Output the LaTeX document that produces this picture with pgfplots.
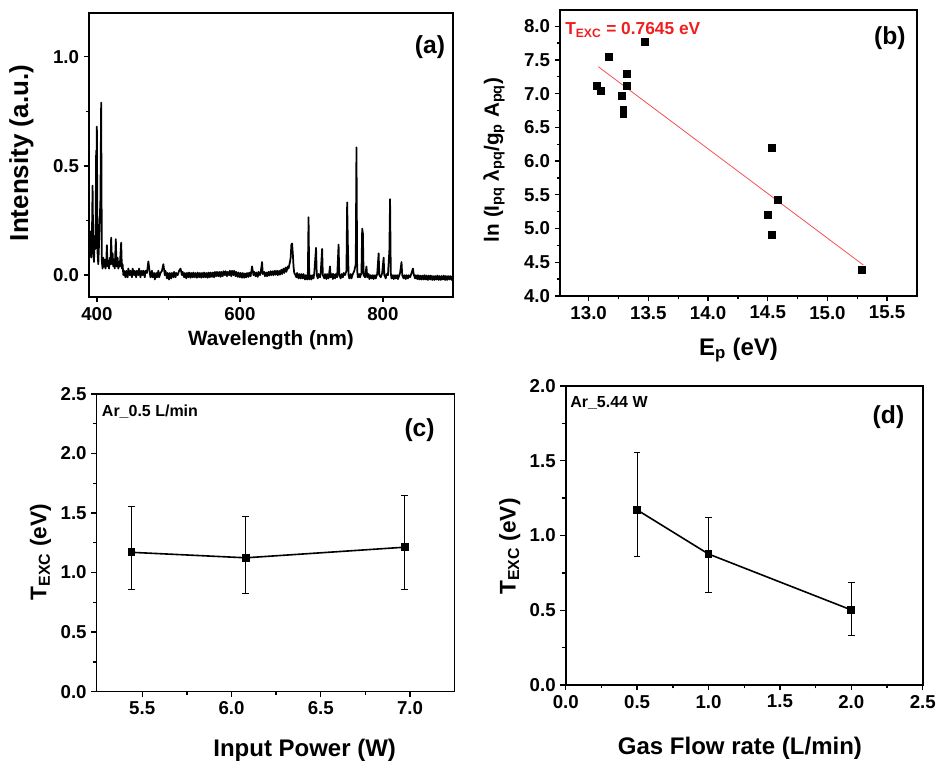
\documentclass[border=0pt]{standalone}
\usepackage{pgfplots}
\pgfplotsset{compat=1.18}
\usepackage{fontspec}
\setmainfont{Liberation Sans}
\definecolor{fitred}{RGB}{245,80,80}
\definecolor{txtred}{RGB}{240,30,30}
\pgfplotsset{
 myax/.style={scale only axis, anchor=south west,
  axis line style={line width=1.2pt},
  tick align=outside, tick pos=left,
  major tick length=4pt, minor tick length=2.5pt,
  tick style={line width=1pt, black},
  minor tick num=1,
  ticklabel style={font=\bfseries\fontsize{14}{14}\selectfont},
  /pgf/number format/assume math mode=true,
  label style={font=\bfseries\fontsize{17}{17}\selectfont},
 },
 onedec/.style={/pgf/number format/.cd, fixed, fixed zerofill, precision=1},
}
\begin{document}
\begin{tikzpicture}
\useasboundingbox (0,0) rectangle (702pt,572.25pt);
% ---------------- (a)
\begin{axis}[myax, at={(66.75pt,349.5pt)}, width=273pt, height=213pt,
 xmin=389, xmax=898, ymin=-0.1, ymax=1.2,
 xtick={400,600,800}, ytick={0,0.5,1.0},
 yticklabel style={onedec},
 xlabel={Wavelength (nm)}, ylabel={Intensity (a.u.)},
 xlabel style={font=\bfseries\fontsize{15.5}{15.5}\selectfont, at={(axis description cs:0.5,-0.151)}, anchor=center},
 ylabel style={font=\bfseries\fontsize{19.5}{19.5}\selectfont, at={(axis description cs:-0.186,0.507)}, anchor=center},
]
\addplot[black, line width=1.3pt, line join=round] coordinates {
(390,0.12)(391,0.2)(392,0.08)(393,0.15)(394,0.41)(395,0.1)(396,0.06)(397,0.18)(398,0.12)(399,0.57)(399.5,0.2)(400,0.68)(401,0.1)(402,0.05)(403,0.14)(404,0.25)(405,0.35)(406,0.79)(407,0.06)(408,0.03)(409,0.08)(410,0.04)(411,0.07)(412,0.03)(413,0.05)(414,0.137)(415,0.04)(416,0.06)(417,0.03)(418,0.08)(419,0.05)(420,0.172)(421,0.05)(422,0.1)(423,0.04)(424,0.07)(425,0.03)(426.5,0.165)(427.5,0.04)(429,0.08)(430,0.03)(431,0.06)(432,0.04)(434,0.149)(435,0.03)(436,0.05)(437,0.0)(438,0.02)(440,-0.01)(441,0.02)(443,-0.01)(444,0.03)(446,0.0)(447,0.02)(449,-0.01)(450,0.03)(452,0.0)(453,0.02)(455,-0.01)(456,0.02)(458,0.0)(459,0.03)(461,-0.01)(462,0.02)(464,0.0)(465,0.02)(467,-0.01)(468,0.02)(470,0.01)(472,0.063)(474,0.01)(475,-0.01)(477,0.02)(478,-0.01)(480,0.01)(481,-0.02)(483,0.01)(484,-0.01)(486,0.02)(487,-0.01)(489,0.01)(491,0.02)(493,0.05)(495,0.0)(496,0.02)(498,-0.015)(499,0.01)(501,-0.02)(502,0.01)(504,-0.015)(505,0.01)(507,-0.01)(508,0.015)(510,-0.01)(511,0.01)(513,0.0)(515,0.02)(517,0.03)(519,0.0)(520,0.015)(522,-0.01)(523,0.01)(525,-0.015)(526,0.01)(528,-0.01)(529,0.012)(531,-0.012)(532,0.01)(534,-0.01)(535,0.012)(537,-0.01)(538,0.01)(540,-0.012)(541,0.012)(543,-0.01)(544,0.01)(546,-0.012)(547,0.01)(549,-0.01)(550,0.012)(552,-0.01)(553,0.01)(555,-0.012)(556,0.012)(558,-0.01)(559,0.012)(561,-0.008)(562,0.012)(564,-0.01)(565,0.015)(567,-0.005)(568,0.015)(570,-0.005)(571,0.015)(573,-0.008)(574,0.015)(576,-0.005)(577,0.018)(579,0.0)(580,0.018)(582,-0.005)(583,0.015)(585,0.0)(586,0.02)(588,-0.005)(589,0.02)(591,0.0)(592,0.02)(594,-0.005)(595,0.015)(597,-0.008)(598,0.012)(600,-0.01)(601,0.01)(603,-0.012)(604,0.01)(606,-0.012)(607,0.008)(609,-0.01)(610,0.01)(612,-0.008)(613,0.012)(615,-0.005)(617,0.04)(619,0.0)(620,0.015)(622,-0.005)(623,0.012)(625,-0.008)(626,0.015)(628,0.0)(629,0.01)(631,0.06)(632,0.005)(634,0.015)(635,-0.005)(637,0.012)(638,-0.005)(640,0.015)(641,-0.002)(643,0.018)(644,0.0)(646,0.018)(647,0.0)(649,0.02)(650,0.002)(652,0.02)(653,0.0)(655,0.02)(656,0.002)(658,0.025)(659,0.005)(661,0.03)(662,0.01)(664,0.035)(665,0.015)(667,0.04)(668,0.03)(670,0.06)(671,0.08)(672,0.14)(673,0.145)(674,0.1)(675,0.04)(676,0.01)(677,0.005)(679,-0.01)(680,0.01)(682,-0.015)(683,0.005)(685,-0.015)(686,0.005)(688,-0.015)(689,0.005)(691,-0.02)(692,0.0)(694,-0.02)(695,0.0)(696,0.265)(697,-0.02)(698,0.0)(700,-0.02)(701,0.0)(703,-0.015)(704,0.01)(706.5,0.125)(707.5,0.0)(709,-0.015)(710,0.005)(712,-0.01)(713,0.01)(715,0.12)(716,0.0)(718,-0.015)(719,0.005)(721,-0.018)(722,0.005)(724,-0.015)(726,0.04)(727,-0.01)(729,0.005)(730,-0.018)(731,0.005)(733,-0.015)(734,0.005)(736,-0.01)(738,0.14)(739,0.0)(741,-0.015)(742,0.005)(744,-0.01)(745,0.01)(747,0.0)(749,0.02)(750,0.333)(751,0.14)(752,0.0)(753,-0.015)(755,0.005)(756,-0.015)(758,0.005)(760,0.02)(762,0.05)(763,0.585)(764,0.02)(765,-0.01)(767,0.005)(768,-0.01)(770,0.01)(771,0.213)(772,0.19)(773,0.0)(775,-0.01)(777,0.04)(778,-0.01)(780,0.005)(781,-0.018)(783,0.0)(784,-0.015)(786,0.0)(787,-0.018)(789,0.0)(790,-0.015)(792,0.005)(794,0.1)(795,0.0)(797,-0.01)(799,0.01)(801,0.08)(802,0.0)(804,-0.015)(805,0.005)(807,0.0)(809,0.11)(810,0.348)(811,0.01)(812,-0.015)(814,0.0)(815,-0.018)(817,0.0)(818,-0.015)(820,0.0)(821,-0.018)(823,0.0)(824,0.01)(826,0.06)(827,0.0)(829,-0.015)(830,0.0)(832,-0.018)(833,0.0)(835,-0.015)(836,0.0)(838,-0.01)(840,0.01)(842,0.03)(843,0.005)(845,-0.015)(846,0.0)(848,-0.018)(849,0.0)(851,-0.02)(852,-0.002)(854,-0.02)(855,-0.002)(857,-0.02)(858,0.0)(860,-0.02)(861,-0.002)(863,-0.022)(864,-0.002)(866,-0.02)(867,-0.002)(869,-0.022)(870,-0.004)(872,-0.022)(873,-0.004)(875,-0.02)(876,-0.002)(878,-0.022)(879,-0.004)(881,-0.022)(882,-0.004)(884,-0.02)(885,-0.002)(887,-0.022)(888,-0.004)(890,-0.022)(891,-0.004)(893,-0.02)(894,-0.004)(896,-0.022)(897,-0.005)(898,-0.02)
};
\node[font=\bfseries\fontsize{18.5}{18.5}\selectfont] at (axis description cs:0.937,0.881) {(a)};
\end{axis}
% ---------------- (b)
\begin{axis}[myax, at={(420pt,350.25pt)}, width=267.75pt, height=214.5pt,
 xmin=12.76, xmax=15.75, ymin=4.0, ymax=8.24,
 xtick={13.0,13.5,14.0,14.5,15.0,15.5}, ytick={4.0,4.5,5.0,5.5,6.0,6.5,7.0,7.5,8.0},
 xticklabel style={onedec}, yticklabel style={onedec},
 xlabel={E\textsubscript{p} (eV)},
 ylabel={ln (I\textsubscript{pq} λ\textsubscript{pq}/g\textsubscript{p} A\textsubscript{pq})},
 xlabel style={font=\bfseries\fontsize{18}{18}\selectfont, at={(axis description cs:0.5,-0.189)}, anchor=center},
 ylabel style={font=\bfseries\fontsize{15.5}{15.5}\selectfont, at={(axis description cs:-0.185,0.476)}, anchor=center},
]
\addplot[fitred, line width=0.6pt] coordinates {(13.08,7.40)(15.30,4.46)};
\addplot[only marks, mark=square*, mark size=2.6pt, black] coordinates {
(13.07,7.11)(13.10,7.04)(13.17,7.54)(13.28,6.97)(13.29,6.76)(13.29,6.70)(13.32,7.29)(13.32,7.12)(13.47,7.77)(14.53,6.20)(14.50,5.20)(14.58,5.42)(14.53,4.91)(15.29,4.39)
};
\node[font=\bfseries\fontsize{18.5}{18.5}\selectfont] at (axis description cs:0.924,0.901) {(b)};
\node[anchor=base west, text=txtred, font=\bfseries\fontsize{13}{13}\selectfont, inner sep=0pt] at (axis description cs:0.014,0.913) {T\textsubscript{EXC} = 0.7645 eV};
\end{axis}
% ---------------- (c)
\begin{axis}[myax, at={(72.5pt,53.5pt)}, width=268.5pt, height=223.3pt,
 xmin=5.245, xmax=7.25, ymin=0, ymax=2.5,
 xtick={5.5,6.0,6.5,7.0}, ytick={0,0.5,1.0,1.5,2.0,2.5},
 xticklabel style={onedec}, yticklabel style={onedec},
 xlabel={Input Power (W)}, ylabel={T\textsubscript{EXC} (eV)},
 xlabel style={font=\bfseries\fontsize{18}{18}\selectfont, at={(axis description cs:0.581,-0.196)}, anchor=center},
 ylabel style={font=\bfseries\fontsize{17}{17}\selectfont, at={(axis description cs:-0.157,0.469)}, anchor=center},
]
\addplot[black, line width=1.2pt, mark=square*, mark size=2.3pt,
 error bars/.cd, y dir=both, y explicit,
 error bar style={line width=0.6pt},
 error mark options={rotate=90, mark size=2.5pt, line width=0.6pt}]
 coordinates {
 (5.44,1.170) += (0,0.386) -= (0,0.308)
 (6.08,1.124) += (0,0.348) -= (0,0.295)
 (6.97,1.213) += (0,0.433) -= (0,0.356)
};
\node[font=\bfseries\fontsize{18.5}{18.5}\selectfont] at (axis description cs:0.902,0.879) {(c)};
\node[anchor=base west, font=\bfseries\fontsize{12}{12}\selectfont, inner sep=0pt] at (axis description cs:0.014,0.924) {Ar\_0.5 L/min};
\end{axis}
% ---------------- (d)
\begin{axis}[myax, at={(424.3pt,58.5pt)}, width=267.75pt, height=224.25pt,
 xmin=0, xmax=2.5, ymin=0, ymax=2.0,
 xtick={0,0.5,1.0,1.5,2.0,2.5}, ytick={0,0.5,1.0,1.5,2.0},
 xticklabel style={onedec}, yticklabel style={onedec},
 xlabel={Gas Flow rate (L/min)}, ylabel={T\textsubscript{EXC} (eV)},
 xlabel style={font=\bfseries\fontsize{18}{18}\selectfont, at={(axis description cs:0.488,-0.212)}, anchor=center},
 ylabel style={font=\bfseries\fontsize{17}{17}\selectfont, at={(axis description cs:-0.157,0.463)}, anchor=center},
]
\addplot[black, line width=1.2pt, mark=square*, mark size=2.3pt,
 error bars/.cd, y dir=both, y explicit,
 error bar style={line width=0.6pt},
 error mark options={rotate=90, mark size=2.5pt, line width=0.6pt}]
 coordinates {
 (0.5,1.171) += (0,0.388) -= (0,0.308)
 (1.0,0.876) += (0,0.248) -= (0,0.256)
 (2.0,0.502) += (0,0.185) -= (0,0.170)
};
\node[font=\bfseries\fontsize{18.5}{18.5}\selectfont] at (axis description cs:0.904,0.897) {(d)};
\node[anchor=base west, font=\bfseries\fontsize{12}{12}\selectfont, inner sep=0pt] at (axis description cs:0.012,0.929) {Ar\_5.44 W};
\end{axis}
\end{tikzpicture}
\end{document}
